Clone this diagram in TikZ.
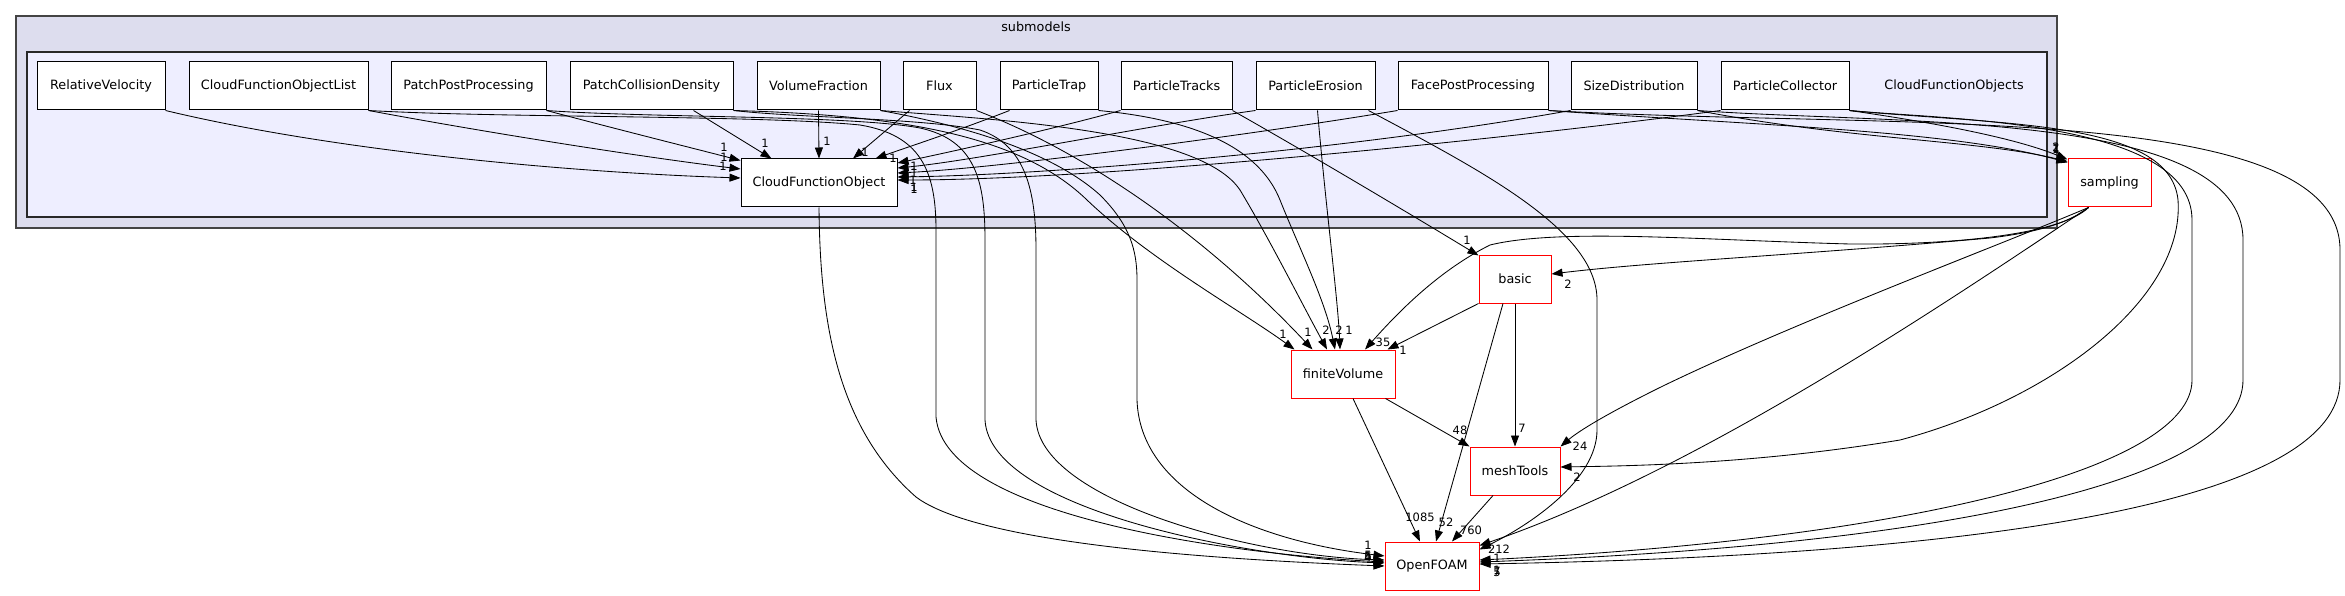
\documentclass[tikz,border=0pt]{standalone}
\usepackage{fontspec}
\setmainfont{DejaVu Sans}
\usetikzlibrary{arrows.meta,calc}
\newcommand\dgnodefont{\fontsize{12.8}{15}\selectfont}
\newcommand\dglblfont{\fontsize{11.5}{13}\selectfont}
\begin{document}
\begin{tikzpicture}[x=1pt,y=-1pt,
  box/.style={draw=black,fill=white,line width=1pt,minimum height=48pt,inner sep=0pt,font=\dgnodefont},
  redbox/.style={box,draw=red},
  edge/.style={line width=0.85pt,-{Triangle[length=11pt,width=8pt]}},
  lbl/.style={font=\dglblfont,inner sep=0pt},
  clab/.style={font=\dgnodefont,inner sep=0pt}]
\useasboundingbox (0,0) rectangle (2345,596);
\fill[white] (0,0) rectangle (2345,596);
% clusters
\draw[fill={rgb,255:red,221;green,221;blue,238},draw={rgb,255:red,68;green,68;blue,68},line width=1.8pt] (16,16) rectangle (2057,228);
\node[clab] (lsub) at (1036,27) {submodels};
\draw[fill={rgb,255:red,238;green,238;blue,255},draw={rgb,255:red,40;green,40;blue,40},line width=1.3pt] (27,52) rectangle (2047,217);
\node[clab] (lcfos) at (1954,86) {CloudFunctionObjects};
% nodes
\node[box,minimum width=128pt] (RV) at (101,86) {RelativeVelocity};
\node[box,minimum width=179pt] (CFOL) at (278.5,86) {CloudFunctionObjectList};
\node[box,minimum width=155pt] (PPP) at (468.5,86) {PatchPostProcessing};
\node[box,minimum width=163pt] (PCD) at (651.5,86) {PatchCollisionDensity};
\node[box,minimum width=123pt] (VF) at (818.5,86) {VolumeFraction};
\node[box,minimum width=73pt] (Flux) at (939.5,86) {Flux};
\node[box,minimum width=98pt] (PTrap) at (1049,86) {ParticleTrap};
\node[box,minimum width=111pt] (PTracks) at (1176.5,86) {ParticleTracks};
\node[box,minimum width=119pt] (PE) at (1315.5,86) {ParticleErosion};
\node[box,minimum width=150pt] (FPP) at (1473,86) {FacePostProcessing};
\node[box,minimum width=126pt] (SD) at (1634,86) {SizeDistribution};
\node[box,minimum width=128pt] (PC) at (1785,86) {ParticleCollector};
\node[box,minimum width=156pt] (CFO) at (819,183) {CloudFunctionObject};
\node[redbox,minimum width=83pt] (samp) at (2109.5,183) {sampling};
\node[redbox,minimum width=72pt] (basic) at (1515,279) {basic};
\node[redbox,minimum width=104pt] (fV) at (1343,374) {finiteVolume};
\node[redbox,minimum width=90pt] (mT) at (1515,471) {meshTools};
\node[redbox,minimum width=94pt] (OF) at (1432,566) {OpenFOAM};
% edges to CloudFunctionObject
\draw[edge] (RV.south east) .. controls (330,150) and (560,172) .. ($(CFO.west)+(0,-5)$);
\draw[edge] (CFOL.south east) .. controls (500,135) and (650,158) .. ($(CFO.west)+(0,-14)$);
\draw[edge] (PPP.south east) .. controls (620,130) and (700,150) .. ($(CFO.north west)+(0,2)$);
\draw[edge] ($(PCD.south)+(42,0)$) -- ($(CFO.north west)+(31,0)$);
\draw[edge] (VF.south) -- (CFO.north);
\draw[edge] ($(Flux.south)+(-30,0)$) -- ($(CFO.north)+(34,0)$);
\draw[edge] ($(PTrap.south west)+(10,0)$) .. controls (960,130) and (905,148) .. ($(CFO.north east)+(-22,0)$);
\draw[edge] (PTracks.south west) .. controls (1050,130) and (950,152) .. ($(CFO.east)+(0,-20)$);
\draw[edge] (PE.south west) .. controls (1150,125) and (980,160) .. ($(CFO.east)+(0,-15)$);
\draw[edge] (FPP.south west) .. controls (1250,135) and (1000,168) .. ($(CFO.east)+(0,-10)$);
\draw[edge] (SD.south west) .. controls (1350,150) and (1050,175) .. ($(CFO.east)+(0,-6)$);
\draw[edge] (PC.south west) .. controls (1500,140) and (1100,180) .. ($(CFO.east)+(0,-3)$);
% edges to OpenFOAM (left)
\draw[edge] (CFO.south) .. controls (820,330) and (840,430) .. (916,497) .. controls (960,530) and (1100,555) .. (OF.west);
\draw[edge] (CFOL.south east) .. controls (500,118) and (760,115) .. (860,125) .. controls (920,135) and (936,170) .. (936,230) -- (936,417) .. controls (945,520) and (1250,555) .. ($(OF.west)+(0,-4)$);
\draw[edge] (PPP.south east) .. controls (650,118) and (850,115) .. (920,128) .. controls (975,140) and (985,180) .. (985,240) -- (985,420) .. controls (990,510) and (1250,558) .. ($(OF.west)+(0,-3)$);
\draw[edge] (PCD.south east) .. controls (800,118) and (920,118) .. (980,130) .. controls (1025,145) and (1036,190) .. (1036,250) -- (1036,420) .. controls (1040,500) and (1250,556) .. ($(OF.west)+(0,-6)$);
\draw[edge] (VF.south east) .. controls (960,125) and (1050,150) .. (1100,195) .. controls (1130,225) and (1137,250) .. (1137,280) -- (1137,400) .. controls (1140,490) and (1250,540) .. ($(OF.west)+(0,-10)$);
% edges to finiteVolume
\draw[edge] (PCD.south east) .. controls (900,115) and (1020,135) .. (1087,200) .. controls (1150,260) and (1240,310) .. ($(fV.north west)+(4,0)$);
\draw[edge] (Flux.south east) .. controls (1080,150) and (1200,230) .. ($(fV.north west)+(22,0)$);
\draw[edge] (VF.south east) .. controls (1000,120) and (1200,130) .. (1240,190) .. controls (1270,240) and (1300,300) .. ($(fV.north)+(-16,0)$);
\draw[edge] (PTrap.south east) .. controls (1200,120) and (1260,150) .. (1280,200) .. controls (1300,250) and (1325,300) .. ($(fV.north)+(-8,0)$);
\draw[edge] ($(PE.south)+(2,0)$) .. controls (1325,200) and (1338,300) .. ($(fV.north)+(-3,0)$);
% ParticleTracks, ParticleErosion
\draw[edge] (PTracks.south east) .. controls (1320,160) and (1420,220) .. ($(basic.north west)+(0,1)$);
\draw[edge] ($(PE.south east)+(-7,0)$) .. controls (1480,170) and (1597,230) .. (1597,300) -- (1597,430) .. controls (1597,480) and (1530,525) .. ($(OF.north east)+(0,8)$);
% sampling
\draw[edge] ($(samp.south)+(-21,0)$) .. controls (2070,222) and (2040,232) .. (1990,238) .. controls (1800,255) and (1650,262) .. ($(basic.east)+(0,-5)$);
\draw[edge] ($(samp.south)+(-21,0)$) .. controls (2060,235) and (1950,245) .. (1850,244) .. controls (1700,240) and (1560,228) .. (1490,245) .. controls (1440,270) and (1400,310) .. ($(fV.north)+(22,0)$);
\draw[edge] ($(samp.south)+(-21,0)$) .. controls (2000,245) and (1800,320) .. (1665,385) .. controls (1610,412) and (1580,430) .. (mT.north east);
\draw[edge] ($(samp.south)+(-21,0)$) .. controls (1950,300) and (1700,470) .. ($(OF.north east)+(0,4)$);
% lower graph
\draw[edge] (basic.south west) -- ($(fV.north east)+(-8,0)$);
\draw[edge] (basic.south) -- (mT.north);
\draw[edge] ($(basic.south)+(-12,0)$) -- ($(OF.north)+(4,0)$);
\draw[edge] ($(fV.south east)+(-10,0)$) -- (mT.north west);
\draw[edge] ($(fV.south)+(10,0)$) -- ($(OF.north)+(-12,0)$);
\draw[edge] ($(mT.south)+(-22,0)$) -- ($(OF.north)+(20,0)$);
% right side
\draw[edge] (PC.south east) .. controls (2000,125) and (2170,120) .. (2178,200) .. controls (2185,300) and (2050,400) .. (1900,440) .. controls (1750,465) and (1620,466) .. ($(mT.east)+(0,-4)$);
\draw[edge] (PC.south east) .. controls (1950,120) and (2192,120) .. (2192,220) -- (2192,380) .. controls (2192,470) and (1900,540) .. ($(OF.east)+(0,-6)$);
\draw[edge] (SD.south east) .. controls (1900,125) and (2243,110) .. (2243,240) -- (2243,380) .. controls (2243,480) and (1950,545) .. ($(OF.east)+(0,-4)$);
\draw[edge] (FPP.south east) .. controls (1900,130) and (2340,100) .. (2340,250) -- (2340,380) .. controls (2340,500) and (2000,555) .. ($(OF.east)+(0,-2)$);
\draw[edge] (FPP.south east) .. controls (1750,125) and (1950,130) .. ($(samp.north west)+(0,4)$);
\draw[edge] (SD.south east) .. controls (1850,140) and (1980,140) .. ($(samp.north west)+(0,3)$);
\draw[edge] (PC.south east) .. controls (1950,125) and (2020,140) .. ($(samp.north west)+(0,1)$);
% labels
\node[lbl] (a1) at (724,147) {1};
\node[lbl] (a2) at (724,157) {1};
\node[lbl] (a3) at (723,166) {1};
\node[lbl] (a4) at (765,143) {1};
\node[lbl] (a5) at (827,141) {1};
\node[lbl] (a6) at (865,152) {1};
\node[lbl] (a7) at (893,158) {1};
\node[lbl] (a8) at (914,166) {1};
\node[lbl] (a9) at (914,173) {1};
\node[lbl] (a10) at (913,180) {1};
\node[lbl] (a11) at (914,187) {1};
\node[lbl] (a12) at (914,189) {1};
\node[lbl] (b1) at (1283,334) {1};
\node[lbl] (b2) at (1308,332) {1};
\node[lbl] (b3) at (1326,330) {2};
\node[lbl] (b4) at (1339,330) {2};
\node[lbl] (b5) at (1349,330) {1};
\node[lbl] (b6) at (1383,342) {35};
\node[lbl] (b7) at (1403,350) {1};
\node[lbl] (c1) at (1467,240) {1};
\node[lbl] (c2) at (1568,284) {2};
\node[lbl] (d1) at (1460,430) {48};
\node[lbl] (d2) at (1522,428) {7};
\node[lbl] (d3) at (1580,446) {24};
\node[lbl] (d4) at (1577,477) {2};
\node[lbl] (e1) at (1420,517) {1085};
\node[lbl] (e2) at (1446,522) {52};
\node[lbl] (e3) at (1471,530) {760};
\node[lbl] (e4) at (1368,545) {1};
\node[lbl] (e5) at (1368,555) {5};
\node[lbl] (e6) at (1368,556) {6};
\node[lbl] (e7) at (1368,557) {4};
\node[lbl] (e8) at (1368,556) {1};
\node[lbl] (f1) at (1499,549) {212};
\node[lbl] (f2) at (1497,558) {1};
\node[lbl] (f3) at (1497,570) {1};
\node[lbl] (f4) at (1497,571) {7};
\node[lbl] (f5) at (1497,572) {5};
\node[lbl] (g1) at (2056,147) {2};
\node[lbl] (g2) at (2056,148) {1};
\node[lbl] (g3) at (2056,149) {1};
\end{tikzpicture}
\end{document}
